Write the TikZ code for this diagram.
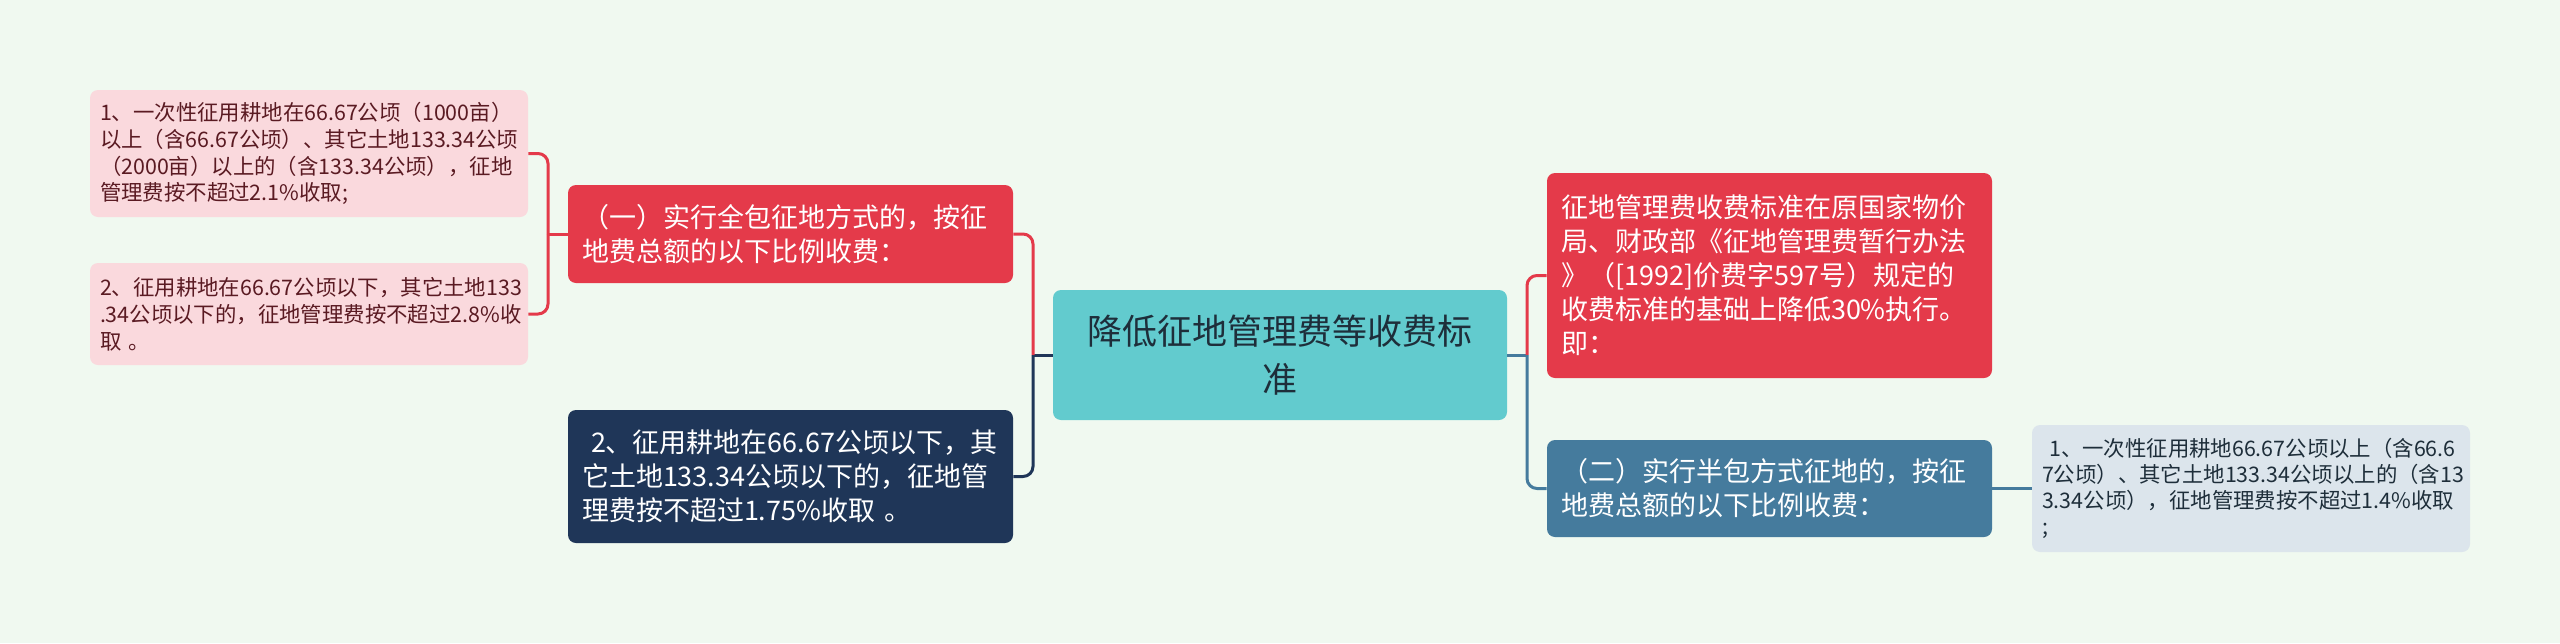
\documentclass[tikz,border=0pt]{standalone}
\usepackage{fontspec}
\setmainfont{Noto Sans CJK SC}
\definecolor{bgmint}{HTML}{F0F9F0}
\definecolor{redbox}{HTML}{E43A4A}
\definecolor{navybox}{HTML}{1F3658}
\definecolor{tealbox}{HTML}{62CBCE}
\definecolor{steelbox}{HTML}{457B9D}
\definecolor{pinkleaf}{HTML}{FAD9DD}
\definecolor{greyleaf}{HTML}{DCE5EC}
\definecolor{leaftext}{HTML}{5A1A22}
\definecolor{roottext}{HTML}{1E2E3A}

\begin{document}
\begin{tikzpicture}[x=0.5pt, y=-0.5pt,
  box/.style={rounded corners=4pt, align=left, inner ysep=0pt},
  leaf/.style={box, text width=209pt, inner xsep=5pt,
    font=\fontsize{10.7pt}{13.4pt}\selectfont},
  branch/.style={box, text width=208.5pt, inner xsep=7pt, text=white,
    font=\fontsize{13.5pt}{17pt}\selectfont},
  link/.style={line width=1.5pt, rounded corners=5pt}]
  \fill[bgmint] (0,0) rectangle (2560,643);
  % --- Centre: root ---
  \node[box, fill=tealbox, text=roottext, align=center, text width=211pt,
    inner xsep=8pt, minimum height=65pt,
    font=\fontsize{17.5pt}{24pt}\selectfont] (root) at (1280,355)
    {降低征地管理费等收费标\\准};
  % --- Left: branches and leaves ---
  \node[branch, fill=redbox, minimum height=49pt] (full) at (790.5,234)
    {（一）实行全包征地方式的，按征\\地费总额的以下比例收费：};
  \node[branch, fill=navybox, minimum height=66.5pt] (below) at (790.5,476.5)
    {\ 2、征用耕地在66.67公顷以下，其\\它土地133.34公顷以下的，征地管\\理费按不超过1.75\%收取 。};
  \node[leaf, fill=pinkleaf, text=leaftext, minimum height=63.5pt] (fullA) at (309,153.5)
    {1、一次性征用耕地在66.67公顷（1000亩）\\以上（含66.67公顷）、其它土地133.34公顷\\（2000亩）以上的（含133.34公顷），征地\\管理费按不超过2.1\%收取;};
  \node[leaf, fill=pinkleaf, text=leaftext, minimum height=51pt] (fullB) at (309,314)
    {2、征用耕地在66.67公顷以下，其它土地133\\.34公顷以下的，征地管理费按不超过2.8\%收\\取 。};
  % --- Right: branches and leaf ---
  \node[branch, fill=redbox, minimum height=102.5pt] (rule) at (1769.5,275.5)
    {征地管理费收费标准在原国家物价\\局、财政部《征地管理费暂行办法\\》（[1992]价费字597号）规定的\\收费标准的基础上降低30\%执行。\\即：};
  \node[branch, fill=steelbox, minimum height=48.5pt] (half) at (1769.5,488.5)
    {（二）实行半包方式征地的，按征\\地费总额的以下比例收费：};
  \node[leaf, fill=greyleaf, text=roottext, minimum height=63.5pt,
    font=\fontsize{10.7pt}{13pt}\selectfont] (halfA) at (2251,488.5)
    {\ 1、一次性征用耕地66.67公顷以上（含66.6\\7公顷）、其它土地133.34公顷以上的（含13\\3.34公顷），征地管理费按不超过1.4\%收取\\;};
  % --- Connectors ---
  \coordinate (jl) at (1033,355);
  \coordinate (jr) at (1527,355);
  \coordinate (jf) at (548,234);
  \draw[link, navybox] (root.west) -- (jl);
  \draw[link, redbox] (jl) |- (full.east);
  \draw[link, navybox] (jl) |- (below.east);
  \draw[link, redbox] (full.west) -- (jf);
  \draw[link, redbox] (jf) |- (fullA.east);
  \draw[link, redbox] (jf) |- (fullB.east);
  \draw[link, steelbox] (root.east) -- (jr);
  \draw[link, redbox] (jr) |- (rule.west);
  \draw[link, steelbox] (jr) |- (half.west);
  \draw[link, steelbox] (half.east) -- (halfA.west);
\end{tikzpicture}
\end{document}
